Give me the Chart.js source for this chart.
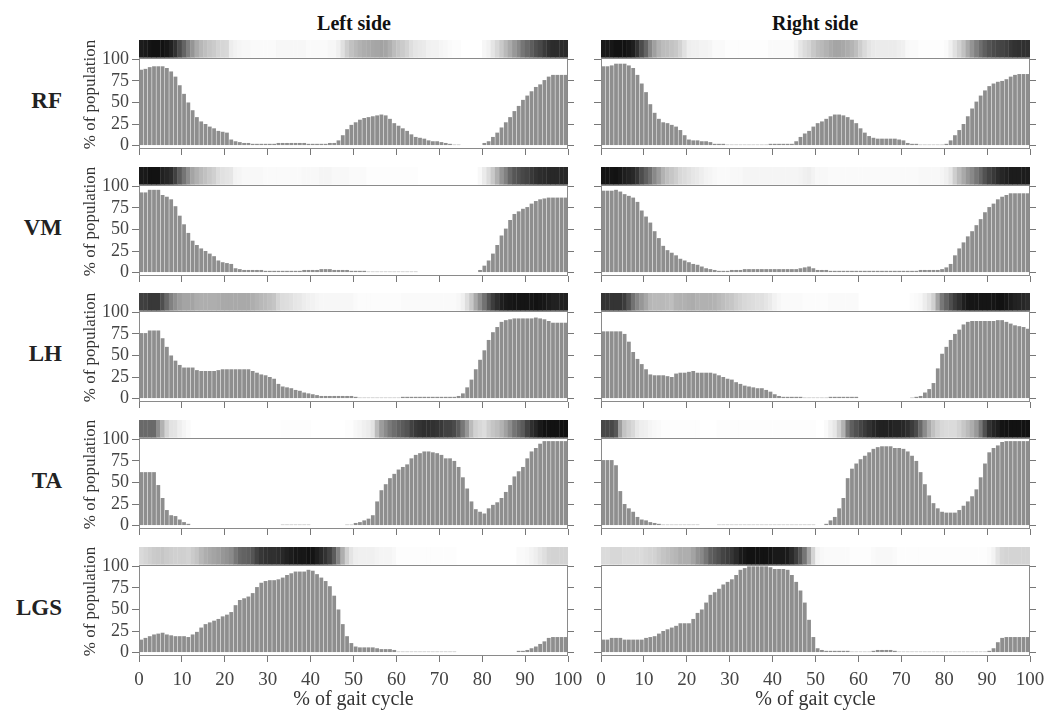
<!DOCTYPE html>
<html>
<head>
<meta charset="utf-8">
<script src="https://cdn.jsdelivr.net/npm/chart.js@4.4.1/dist/chart.umd.min.js"></script>
<style>
  body { margin:0; background:#fff; width:1049px; height:716px; position:relative; overflow:hidden; font-family:"Liberation Serif", serif; }
  .panel { position:absolute; }
  .colTitle { position:absolute; top:12px; width:200px; margin-left:-100px; text-align:center; font-weight:bold; font-size:20px; line-height:22px; color:#111; }
  .rowTitle { position:absolute; left:0; width:62px; text-align:right; font-weight:bold; font-size:23px; line-height:26px; color:#222; }
</style>
</head>
<body>
<div class="colTitle" style="left:354px">Left side</div>
<div class="colTitle" style="left:815px">Right side</div>

<script>
// ---- data (one bin per % of gait cycle, 0..99) ----
const gaitBins = Array.from({length: 100}, (_, i) => i);
const popTicks = [0, 25, 50, 75, 100];
const muscles = ["RF", "VM", "LH", "TA", "LGS"];

const rfLeft = [88,89,91,92,92,92,90,86,80,70,
  60,50,41,33,28,25,22,20,17,16,
  15,7,5,4,3,3,2,2,2,2,
  2,2,3,3,3,3,3,3,3,2,
  2,2,2,2,3,3,6,12,19,24,
  27,30,32,33,34,35,36,35,31,26,
  23,20,17,13,10,9,8,6,5,5,
  4,3,2,1,1,null,null,null,null,null,
  3,5,10,15,21,27,33,40,46,53,
  58,63,68,71,76,80,82,82,82,82];

const rfRight = [92,92,93,95,95,95,93,90,82,72,
  62,48,38,31,27,26,24,22,18,12,
  7,6,6,5,5,4,2,2,2,1,
  1,1,1,1,1,1,1,1,1,2,
  2,2,2,2,2,5,10,14,17,22,
  26,28,31,34,36,36,35,33,30,26,
  20,15,11,9,8,8,8,8,8,7,
  6,3,2,2,1,1,1,1,1,1,
  2,6,12,18,25,34,43,51,58,64,
  69,72,74,75,77,80,82,83,83,83];

const vmLeft = [93,93,96,96,96,90,88,85,77,66,
  56,46,37,32,28,25,22,19,14,12,
  11,10,5,4,3,3,3,3,3,2,
  2,2,2,2,2,2,2,2,3,3,
  3,3,4,4,4,3,3,3,3,2,
  2,2,2,1,1,1,1,1,1,1,
  1,1,1,1,1,null,null,null,null,null,
  null,null,null,null,null,null,null,null,null,3,
  8,14,22,32,43,51,61,68,71,74,
  76,80,83,85,86,87,87,87,87,87];

const vmRight = [95,95,95,96,94,91,89,87,82,72,
  65,58,48,40,31,26,23,20,16,14,
  12,10,9,7,5,4,3,2,2,2,
  3,3,3,4,4,4,4,4,4,4,
  4,4,4,4,4,4,5,6,7,5,
  3,3,3,2,2,2,2,2,2,2,
  2,2,2,2,2,2,2,2,2,2,
  2,2,2,2,3,3,3,3,3,4,
  6,10,20,28,35,42,48,55,62,70,
  76,80,85,88,90,92,92,92,92,92];

const lhLeft = [76,76,79,79,79,70,60,50,44,39,
  36,36,36,33,32,32,32,32,33,34,
  34,34,34,34,34,34,32,30,28,27,
  25,23,17,14,13,12,10,9,7,6,
  5,4,3,3,3,3,3,3,3,3,
  2,1,1,1,1,1,1,1,1,1,
  1,2,2,2,2,2,2,2,2,2,
  2,2,2,2,3,6,13,22,34,45,
  56,68,77,83,89,91,92,93,93,93,
  93,93,94,93,92,90,88,88,88,88];

const lhRight = [78,78,78,78,78,75,66,54,46,40,
  34,28,27,27,27,26,25,29,30,30,
  31,32,30,30,30,30,29,27,25,23,
  22,19,17,15,14,13,12,12,10,8,
  5,3,2,2,2,2,2,1,1,1,
  1,1,1,2,2,2,2,2,2,2,
  null,null,null,null,null,null,null,null,null,null,
  null,null,1,2,3,7,11,18,35,52,
  60,68,75,80,86,89,90,90,90,90,
  90,90,91,91,89,87,85,84,83,81];

const taLeft = [62,62,62,62,47,32,18,12,11,7,
  4,2,null,null,null,null,null,null,null,null,
  null,null,null,null,null,null,null,null,null,null,
  null,null,null,1,1,1,1,1,1,1,
  null,null,null,null,null,null,null,null,1,1,
  3,4,6,8,12,28,41,48,55,60,
  65,68,71,78,82,84,86,86,85,84,
  82,78,78,75,68,56,43,28,19,16,
  14,20,24,27,32,39,47,57,63,68,
  78,86,90,95,98,98,98,98,98,98];

const taRight = [76,76,76,70,40,25,20,16,10,7,
  6,4,3,2,1,1,1,1,1,1,
  1,1,1,null,null,null,null,1,1,1,
  1,1,1,1,1,1,1,1,1,1,
  1,1,1,1,1,1,1,1,1,1,
  null,null,2,6,10,20,32,55,66,72,
  77,81,85,89,91,92,92,92,90,90,
  89,86,81,75,62,48,35,26,20,16,
  15,15,15,18,23,28,34,42,56,72,
  85,90,93,97,98,98,98,98,98,98];

const lgsLeft = [15,17,19,21,22,23,21,20,19,19,
  19,18,21,24,29,33,35,37,39,42,
  44,47,55,61,63,65,69,76,81,83,
  84,84,85,87,90,92,94,94,94,96,
  95,91,87,83,77,66,50,33,19,11,
  7,6,6,6,6,5,4,4,4,3,
  1,1,1,1,1,1,1,1,1,1,
  1,1,1,1,null,null,null,null,null,null,
  null,null,null,null,null,null,null,null,2,2,
  3,5,7,10,13,17,18,18,18,18];

const lgsRight = [15,15,17,17,17,15,15,15,15,15,
  17,18,19,22,25,27,29,31,34,34,
  34,39,46,50,58,67,70,74,79,82,
  85,90,96,98,100,100,100,100,100,99,
  97,97,97,96,90,82,72,58,38,18,
  5,3,2,2,2,2,2,2,1,1,
  1,1,1,2,3,3,3,3,2,1,
  1,1,1,1,1,1,1,1,1,1,
  1,1,1,1,1,1,1,1,1,1,
  2,5,12,17,18,18,18,18,18,18];

const leftSeries = [rfLeft, vmLeft, lhLeft, taLeft, lgsLeft];
const rightSeries = [rfRight, vmRight, lhRight, taRight, lgsRight];

// ---- layout ----
const rowTops = [40, 167, 293, 420, 547];
const plotW = 429;
const plotH = 109;
const yMin = -4, yMax = 122.5;
const stripRange = [102, 122.5];
const fontFam = '"Liberation Serif", serif';

Chart.defaults.font.family = fontFam;

function shade(v, peak){
  if(v === null) return 'rgba(0,0,0,0)';
  const g = Math.round(18 + 237 * (1 - v / peak));
  return `rgb(${g},${g},${g})`;
}

// box round the bar area, strip sits above it
const framePlugin = {
  id: 'frame',
  afterDatasetsDraw(chart){
    const {ctx, chartArea: a, scales} = chart;
    const top = Math.round(scales.y.getPixelForValue(stripRange[0])) + 0.5;
    const bot = Math.round(a.bottom) - 0.5;
    ctx.save();
    ctx.strokeStyle = '#8a8a8a';
    ctx.lineWidth = 1;
    ctx.strokeRect(Math.round(a.left) + 0.5, top, Math.round(a.right - a.left) - 1, bot - top);
    ctx.restore();
  }
};

function makePanel(row, col, values){
  const axisW = col === 0 ? 60 : 12;
  const bottomRow = row === 4;
  const w = axisW + plotW + 20;
  const h = plotH + (bottomRow ? 60 : 8);
  const left = col === 0 ? 79 : 589;

  const wrap = document.createElement('div');
  wrap.className = 'panel';
  wrap.style.left = left + 'px';
  wrap.style.top = rowTops[row] + 'px';
  const cv = document.createElement('canvas');
  cv.width = w; cv.height = h;
  cv.style.width = w + 'px'; cv.style.height = h + 'px';
  wrap.appendChild(cv);
  document.body.appendChild(wrap);

  const peak = Math.max(...values.filter(v => v !== null));
  const yTicks = s => { s.ticks = popTicks.map(v => ({value: v})); };

  new Chart(cv, {
    type: 'bar',
    data: {
      labels: gaitBins,
      datasets: [
        {
          data: values,
          backgroundColor: '#8e8e8e',
          borderWidth: 0,
          barPercentage: 0.88,
          categoryPercentage: 1,
          grouped: false,
          xAxisID: 'bins',
          yAxisID: 'y'
        },
        {
          data: values.map(v => v === null ? null : stripRange),
          backgroundColor: values.map(v => shade(v, peak)),
          borderWidth: 0,
          barPercentage: 1.08,
          categoryPercentage: 1,
          grouped: false,
          xAxisID: 'bins',
          yAxisID: 'y'
        }
      ]
    },
    options: {
      responsive: false,
      animation: false,
      devicePixelRatio: 1,
      layout: { padding: 0 },
      plugins: { legend: { display: false }, tooltip: { enabled: false } },
      scales: {
        bins: { type: 'category', display: false, offset: true },
        x: {
          type: 'linear', position: 'bottom', min: 0, max: 100, offset: false,
          ticks: { stepSize: 10, display: bottomRow, autoSkip: false, maxRotation: 0,
                   font: { size: 19 }, color: '#444', padding: 7 },
          grid: { offset: false, drawOnChartArea: false, tickLength: 6, color: '#777' },
          border: { display: false },
          title: { display: bottomRow, text: '% of gait cycle', font: { size: 20 }, color: '#333',
                   padding: { top: 0, bottom: 4 } },
          afterFit: s => { s.height = bottomRow ? 60 : 8; s.paddingLeft = 0; s.paddingRight = 0; }
        },
        y: {
          position: 'left', min: yMin, max: yMax,
          afterBuildTicks: yTicks,
          ticks: { display: col === 0, autoSkip: false, font: { size: 18 }, color: '#444', padding: 3 },
          grid: { drawOnChartArea: false, tickLength: 7, color: '#777' },
          border: { display: false },
          title: { display: col === 0, text: '% of population', font: { size: 17 }, color: '#333',
                   padding: { top: 1, bottom: 0 } },
          afterFit: s => { s.width = axisW; s.paddingTop = 0; s.paddingBottom = 0; }
        },
        y2: {
          position: 'right', min: yMin, max: yMax,
          afterBuildTicks: yTicks,
          ticks: { display: false, autoSkip: false },
          grid: { drawOnChartArea: false, tickLength: 6, color: '#777' },
          border: { display: false },
          afterFit: s => { s.width = 20; s.paddingTop = 0; s.paddingBottom = 0; }
        }
      }
    },
    plugins: [framePlugin]
  });
}

muscles.forEach((m, row) => {
  const lab = document.createElement('div');
  lab.className = 'rowTitle';
  lab.style.top = (rowTops[row] + 61 - 13) + 'px';
  lab.textContent = m;
  document.body.appendChild(lab);

  makePanel(row, 0, leftSeries[row]);
  makePanel(row, 1, rightSeries[row]);
});
</script>
</body>
</html>
